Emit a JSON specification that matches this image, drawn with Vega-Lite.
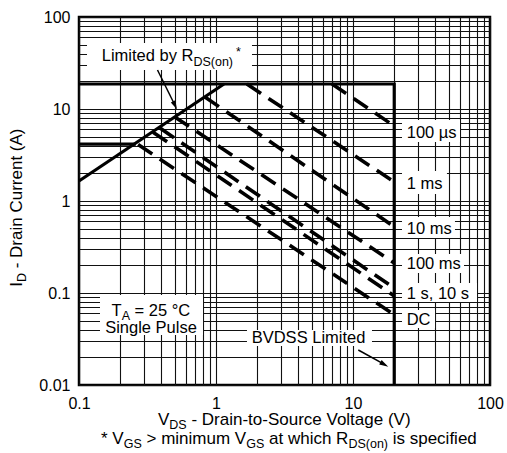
{
  "$schema": "https://vega.github.io/schema/vega-lite/v6.json",
  "width": 411,
  "height": 368,
  "autosize": "none",
  "padding": {"left": 79, "top": 17, "right": 17, "bottom": 68},
  "datasets": {
    "boxes": [
      {"V": 0.1144, "V2": 1.831, "I": 52.2, "I2": 26.54},
      {"V": 22.79, "V2": 60.4, "I": 7.59, "I2": 4.38},
      {"V": 22.79, "V2": 48.5, "I": 2.118, "I2": 1.191},
      {"V": 22.79, "V2": 55.5, "I": 0.67, "I2": 0.396},
      {"V": 22.79, "V2": 64.6, "I": 0.2654, "I2": 0.165},
      {"V": 22.79, "V2": 80.4, "I": 0.1284, "I2": 0.0798},
      {"V": 22.79, "V2": 39.7, "I": 0.0654, "I2": 0.0417},
      {"V": 0.1423, "V2": 0.804, "I": 0.0951, "I2": 0.03496},
      {"V": 1.683, "V2": 13.76, "I": 0.0396, "I2": 0.02654}
    ],
    "lines": [
      {"s": "Imax", "k": "solid", "o": 1, "V": 0.1, "I": 18.7},
      {"s": "Imax", "k": "solid", "o": 2, "V": 20, "I": 18.7},
      {"s": "Imax", "k": "solid", "o": 3, "V": 20, "I": 0.01},
      {"s": "Idc", "k": "solid", "o": 1, "V": 0.1, "I": 4.15},
      {"s": "Idc", "k": "solid", "o": 2, "V": 0.26, "I": 4.15},
      {"s": "Rds", "k": "solid", "o": 1, "V": 0.1, "I": 1.65},
      {"s": "Rds", "k": "solid", "o": 2, "V": 1.144, "I": 18.7},
      {"s": "100us", "k": "dashed", "o": 1, "V": 7.03, "I": 18.7},
      {"s": "100us", "k": "dashed", "o": 2, "V": 20, "I": 6.53},
      {"s": "1ms", "k": "dashed", "o": 1, "V": 1.68, "I": 18.7},
      {"s": "1ms", "k": "dashed", "o": 2, "V": 20, "I": 1.61},
      {"s": "10ms", "k": "dashed", "o": 1, "V": 0.83, "I": 13.5},
      {"s": "10ms", "k": "dashed", "o": 2, "V": 20, "I": 0.525},
      {"s": "100ms", "k": "dashed", "o": 1, "V": 0.5, "I": 8.2},
      {"s": "100ms", "k": "dashed", "o": 2, "V": 20, "I": 0.212},
      {"s": "1s", "k": "dashed", "o": 1, "V": 0.39, "I": 6.2},
      {"s": "1s", "k": "dashed", "o": 2, "V": 20, "I": 0.113},
      {"s": "10s", "k": "dashed", "o": 1, "V": 0.347, "I": 5.6},
      {"s": "10s", "k": "dashed", "o": 2, "V": 20, "I": 0.093},
      {"s": "DC", "k": "dashed", "o": 1, "V": 0.27, "I": 4.1},
      {"s": "DC", "k": "dashed", "o": 2, "V": 20, "I": 0.058}
    ],
    "arrows": [
      {"a": "rds", "V": 0.3741, "I": 26.54, "V2": 0.5005, "I2": 11.05},
      {"a": "bv", "V": 10.93, "I": 0.024, "V2": 16.81, "I2": 0.01683}
    ],
    "labels": [
      {"t": "Limited by R", "V": 0.1465, "I": 33.24, "g": "m"},
      {"t": "DS(on)", "V": 0.684, "I": 29.7, "g": "s"},
      {"t": "*", "V": 1.4, "I": 37.7, "g": "s"},
      {"t": "100 µs", "V": 24.66, "I": 4.89, "g": "m"},
      {"t": "1 ms", "V": 24.66, "I": 1.344, "g": "m"},
      {"t": "10 ms", "V": 24.66, "I": 0.4356, "g": "m"},
      {"t": "100 ms", "V": 24.66, "I": 0.1815, "g": "m"},
      {"t": "1 s, 10 s", "V": 24.66, "I": 0.0869, "g": "m"},
      {"t": "DC", "V": 24.66, "I": 0.04467, "g": "m"},
      {"t": "T", "V": 0.173, "I": 0.0569, "g": "m"},
      {"t": "A", "V": 0.205, "I": 0.0509, "g": "s"},
      {"t": "= 25 °C", "V": 0.2546, "I": 0.0569, "g": "m"},
      {"t": "Single Pulse", "V": 0.3354, "I": 0.0372, "g": "mc"},
      {"t": "BVDSS Limited", "V": 1.822, "I": 0.0284, "g": "m"},
      {"t": "V", "V": 0.3773, "I": 0.003674, "g": "b"},
      {"t": "DS", "V": 0.456, "I": 0.003323, "g": "s"},
      {"t": "- Drain-to-Source Voltage (V)", "V": 0.6612, "I": 0.003674, "g": "b"},
      {"t": "* V", "V": 0.1447, "I": 0.002284, "g": "b"},
      {"t": "GS", "V": 0.212, "I": 0.002066, "g": "s"},
      {"t": "> minimum V", "V": 0.3109, "I": 0.002284, "g": "b"},
      {"t": "GS", "V": 1.661, "I": 0.002066, "g": "s"},
      {"t": "at which R", "V": 2.437, "I": 0.002284, "g": "b"},
      {"t": "DS(on)", "V": 9.256, "I": 0.002066, "g": "s"},
      {"t": "is specified", "V": 19.49, "I": 0.002284, "g": "b"},
      {"t": "I", "V": 0.0384, "I": 0.1171, "g": "r"},
      {"t": "D", "V": 0.04137, "I": 0.1317, "g": "rs"},
      {"t": "- Drain Current (A)", "V": 0.0384, "I": 0.1856, "g": "r"}
    ]
  },
  "encoding": {
    "x": {
      "field": "V", "type": "quantitative", "title": null,
      "scale": {"type": "log", "domain": [0.1, 100], "nice": false},
      "axis": {
        "title": null,
        "values": [0.1, 0.2, 0.3, 0.4, 0.5, 0.6, 0.7, 0.8, 0.9, 1, 2, 3, 4, 5, 6, 7, 8, 9, 10, 20, 30, 40, 50, 60, 70, 80, 90, 100],
        "format": "~g",
        "labelExpr": "datum.value == 0.1 || datum.value == 1 || datum.value == 10 || datum.value == 100 ? datum.label : ''",
        "labelBaseline": "alphabetic",
        "labelPadding": 23
      }
    },
    "y": {
      "field": "I", "type": "quantitative", "title": null,
      "scale": {"type": "log", "domain": [0.01, 100], "nice": false},
      "axis": {
        "title": null,
        "values": [0.01, 0.02, 0.03, 0.04, 0.05, 0.06, 0.07, 0.08, 0.09, 0.1, 0.2, 0.3, 0.4, 0.5, 0.6, 0.7, 0.8, 0.9, 1, 2, 3, 4, 5, 6, 7, 8, 9, 10, 20, 30, 40, 50, 60, 70, 80, 90, 100],
        "format": "~g",
        "labelExpr": "datum.value == 0.01 || datum.value == 0.1 || datum.value == 1 || datum.value == 10 || datum.value == 100 ? datum.label : ''",
        "labelBaseline": "middle",
        "labelPadding": 9
      }
    }
  },
  "layer": [
    {
      "data": {"name": "boxes"},
      "mark": {"type": "rect", "color": "white", "opacity": 1},
      "encoding": {
        "x2": {"field": "V2"},
        "y2": {"field": "I2"}
      }
    },
    {
      "data": {"name": "lines"},
      "transform": [{"filter": "datum.k == 'solid'"}],
      "mark": {"type": "line", "color": "black", "strokeWidth": 3.2, "strokeCap": "butt", "strokeJoin": "miter"},
      "encoding": {
        "detail": {"field": "s"},
        "order": {"field": "o"}
      }
    },
    {
      "data": {"name": "lines"},
      "transform": [{"filter": "datum.k == 'dashed'"}],
      "mark": {"type": "line", "color": "black", "strokeWidth": 3.6, "strokeCap": "butt", "strokeDash": [17, 9]},
      "encoding": {
        "detail": {"field": "s"},
        "order": {"field": "o"}
      }
    },
    {
      "data": {"name": "arrows"},
      "mark": {"type": "rule", "color": "black", "strokeWidth": 1.5},
      "encoding": {
        "x2": {"field": "V2"},
        "y2": {"field": "I2"}
      }
    },
    {
      "data": {"name": "arrows"},
      "transform": [{"filter": "datum.a == 'rds'"}],
      "mark": {"type": "point", "shape": "M0,1L-0.5,-0.8L0.5,-0.8Z", "filled": true, "size": 100, "angle": 333.7, "color": "black", "opacity": 1},
      "encoding": {
        "x": {"field": "V2", "type": "quantitative", "title": null},
        "y": {"field": "I2", "type": "quantitative", "title": null}
      }
    },
    {
      "data": {"name": "arrows"},
      "transform": [{"filter": "datum.a == 'bv'"}],
      "mark": {"type": "point", "shape": "M0,1L-0.5,-0.8L0.5,-0.8Z", "filled": true, "size": 100, "angle": 299.1, "color": "black", "opacity": 1},
      "encoding": {
        "x": {"field": "V2", "type": "quantitative", "title": null},
        "y": {"field": "I2", "type": "quantitative", "title": null}
      }
    },
    {
      "data": {"name": "labels"},
      "transform": [{"filter": "datum.g == 'm'"}],
      "mark": {"type": "text", "align": "left", "baseline": "alphabetic", "font": "Liberation Sans", "fontSize": 16.5, "color": "black"},
      "encoding": {"text": {"field": "t"}}
    },
    {
      "data": {"name": "labels"},
      "transform": [{"filter": "datum.g == 'mc'"}],
      "mark": {"type": "text", "align": "center", "baseline": "alphabetic", "font": "Liberation Sans", "fontSize": 16.5, "color": "black"},
      "encoding": {"text": {"field": "t"}}
    },
    {
      "data": {"name": "labels"},
      "transform": [{"filter": "datum.g == 's'"}],
      "mark": {"type": "text", "align": "left", "baseline": "alphabetic", "font": "Liberation Sans", "fontSize": 12.5, "color": "black"},
      "encoding": {"text": {"field": "t"}}
    },
    {
      "data": {"name": "labels"},
      "transform": [{"filter": "datum.g == 'b'"}],
      "mark": {"type": "text", "align": "left", "baseline": "alphabetic", "font": "Liberation Sans", "fontSize": 17, "color": "black"},
      "encoding": {"text": {"field": "t"}}
    },
    {
      "data": {"name": "labels"},
      "transform": [{"filter": "datum.g == 'r'"}],
      "mark": {"type": "text", "align": "left", "baseline": "alphabetic", "angle": 270, "font": "Liberation Sans", "fontSize": 17, "color": "black"},
      "encoding": {"text": {"field": "t"}}
    },
    {
      "data": {"name": "labels"},
      "transform": [{"filter": "datum.g == 'rs'"}],
      "mark": {"type": "text", "align": "left", "baseline": "alphabetic", "angle": 270, "font": "Liberation Sans", "fontSize": 12.5, "color": "black"},
      "encoding": {"text": {"field": "t"}}
    }
  ],
  "config": {
    "view": {"stroke": "black", "strokeWidth": 2.5},
    "axis": {
      "grid": true,
      "gridColor": "#111111",
      "gridWidth": 1.1,
      "gridOpacity": 1,
      "ticks": false,
      "domain": false,
      "labelFont": "Liberation Sans",
      "labelFontSize": 16,
      "labelColor": "black",
      "labelFlush": false,
      "labelOverlap": false,
      "labelBound": false
    }
  }
}
